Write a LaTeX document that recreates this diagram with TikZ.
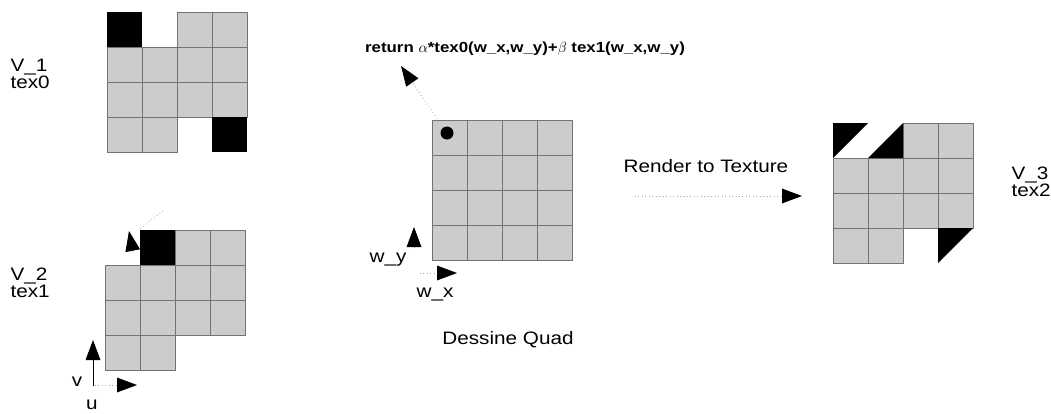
\documentclass[tikz,border=0pt]{standalone}
\usepackage{fontspec}
\setmainfont{Liberation Sans}[FakeStretch=1.15]
\usetikzlibrary{arrows.meta}

\tikzset{every picture/.style={line width=0.75pt}}
\tikzset{
  cell/.style={fill=black!20, draw=black!55, line width=0.6pt},
  tip/.style={-{Triangle[length=15pt,width=11pt,color=black]}},
  faint/.style={draw=black!35, dotted, line width=0.6pt},
  lbl/.style={inner sep=0.75pt, align=left, font=\fontsize{13.5}{12.5}\selectfont},
}

\begin{document}
\begin{tikzpicture}[x=0.75pt,y=0.75pt,yscale=-1,xscale=1]
	\useasboundingbox (0,0) rectangle (1051,414);
	
	%Grid tex0
	\foreach \c/\r in {2/0,3/0,0/1,1/1,2/1,3/1,0/2,1/2,2/2,3/2,0/3,1/3}
		\draw[cell] ({107+35*\c},{12+35*\r}) rectangle ++(35,35);
	\fill (107,12) rectangle ++(35,35);
	\fill (212,117) rectangle ++(35,35);
	
	%Grid tex1
	\foreach \c/\r in {2/0,3/0,0/1,1/1,2/1,3/1,0/2,1/2,2/2,3/2,0/3,1/3}
		\draw[cell] ({105+35*\c},{230+35*\r}) rectangle ++(35,35);
	\fill (140,230) rectangle ++(35,35);
	
	%Grid quad
	\foreach \c in {0,...,3}
		\foreach \r in {0,...,3}
			\draw[cell] ({432+35*\c},{120+35*\r}) rectangle ++(35,35);
	
	%Grid tex2
	\foreach \c/\r in {2/0,3/0,0/1,1/1,2/1,3/1,0/2,1/2,2/2,3/2,0/3,1/3}
		\draw[cell] ({833+35*\c},{123+35*\r}) rectangle ++(35,35);
	\fill (833,123) -- (868,123) -- (833,158) -- cycle;
	\fill (903,123) -- (903,158) -- (868,158) -- cycle;
	\fill (938,228) -- (973,228) -- (938,263) -- cycle;
	
	%Points
	\node[circle, fill, inner sep=0pt, minimum size=9.75pt] (dot) at (447,133) {};
	\coordinate (rt) at (401,66);
	\coordinate (t1s) at (163,211);
	\coordinate (t1e) at (140,229);
	\coordinate (t1b) at (133,252);
	\coordinate (t1h) at (129,231);
	\coordinate (v0) at (93,386);
	\coordinate (v1) at (93,340);
	\coordinate (u0) at (95,385);
	\coordinate (u1) at (137,385);
	\coordinate (wy0) at (414,248);
	\coordinate (wy1) at (414,227);
	\coordinate (wx0) at (420,273);
	\coordinate (wx1) at (457,273);
	\coordinate (rd0) at (635,196);
	\coordinate (rd1) at (802,196);
	
	%Arrows
	\draw[faint, tip] (dot) -- (rt);
	\draw[faint] (t1s) -- (t1e);
	\draw[faint, tip] (t1b) -- (t1h);
	\draw[tip] (v0) -- (v1);
	\draw[faint, tip] (u0) -- (u1);
	\draw[faint, tip] (wy0) -- (wy1);
	\draw[faint, tip] (wx0) -- (wx1);
	\draw[faint, tip] (rd0) -- (rd1);
	
	% Text Node
	\node[lbl, anchor=west] (lv1) at (9,74) {V\_1\\tex0};
	% Text Node
	\node[lbl, anchor=west] (lv2) at (9,283) {V\_2\\tex1};
	% Text Node
	\node[lbl, anchor=west] (lv3) at (1010,182) {V\_3\\tex2};
	% Text Node
	\node[lbl] (lv) at (77,382) {v};
	% Text Node
	\node[lbl] (lu) at (92,405) {u};
	% Text Node
	\node[lbl] (lwy) at (388,260) {w\_y};
	% Text Node
	\node[lbl] (lwx) at (435,295) {w\_x};
	% Text Node
	\node[lbl] (lquad) at (508,340) {Dessine Quad};
	% Text Node
	\node[lbl] (lrender) at (706,166) {Render to Texture};
	% Text Node
	\node[inner sep=0.75pt, font=\bfseries\fontsize{11}{13}\selectfont] (lret) at (525,49) {return $\alpha$*tex0(w\_x,w\_y)+$\beta$ tex1(w\_x,w\_y)};
	
\end{tikzpicture}
\end{document}
